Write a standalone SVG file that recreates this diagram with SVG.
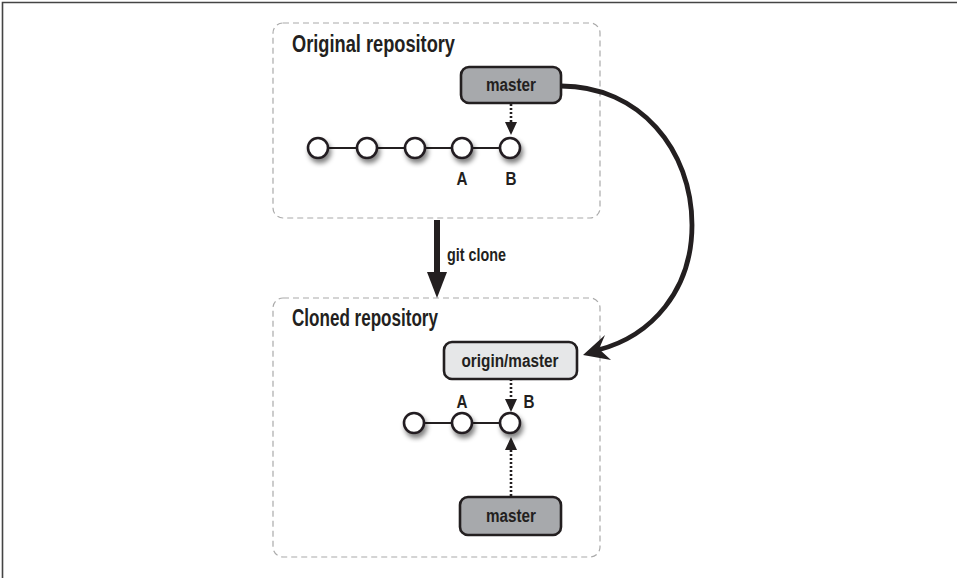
<svg xmlns="http://www.w3.org/2000/svg" width="957" height="578" viewBox="0 0 957 578">
<defs>
<style>
.frame{stroke:#444;stroke-width:1.6;fill:none}
.repo{fill:none;stroke:#aaa;stroke-width:1.2;stroke-dasharray:6,4}
.title{font-family:"Liberation Sans",Arial,sans-serif;font-weight:bold;font-size:23px;fill:#231f20}
.lbl{font-family:"Liberation Sans",Arial,sans-serif;font-weight:bold;font-size:17.5px;fill:#231f20;text-anchor:middle}
.ab{font-family:"Liberation Sans",Arial,sans-serif;font-weight:bold;font-size:19px;fill:#231f20;text-anchor:middle}
.ref{stroke:#231f20;stroke-width:2.6}
.dark{fill:#a7a9ac}
.light{fill:#e6e7e8}
.commit{fill:#fff;stroke:#231f20;stroke-width:2.6}
.link{stroke:#231f20;stroke-width:2.2;fill:none}
.dot{stroke:#231f20;stroke-width:2.6;stroke-dasharray:2,2;fill:none}
.head{fill:#231f20}
</style>
<filter id="sh" x="-50%" y="-50%" width="200%" height="200%">
<feGaussianBlur in="SourceAlpha" stdDeviation="2.5"/>
<feOffset dx="2" dy="4" result="b"/>
<feComponentTransfer><feFuncA type="linear" slope="0.5"/></feComponentTransfer>
<feMerge><feMergeNode/><feMergeNode in="SourceGraphic"/></feMerge>
</filter>
</defs>
<rect width="957" height="578" fill="#fff"/>
<path class="frame" d="M2.5 578 V2.5 H957"/>

<g id="original-repo">
<rect class="repo" x="273" y="23" width="327" height="195" rx="10"/>
<text class="title" x="292" y="52" textLength="163" lengthAdjust="spacingAndGlyphs">Original repository</text>
</g>
<g id="cloned-repo">
<rect class="repo" x="273" y="298" width="327" height="259" rx="10"/>
<text class="title" x="292" y="326" textLength="146" lengthAdjust="spacingAndGlyphs">Cloned repository</text>
</g>

<g id="connectors">
<path class="link" d="M318 148 H510"/>
<path class="link" d="M414 423 H510"/>
<path class="dot" d="M511 104 V123"/>
<polygon class="head" points="505,122 517,122 511,135"/>
<path class="dot" d="M511 379 V400"/>
<polygon class="head" points="505,399 517,399 511,412"/>
<path class="dot" d="M511 496 V449"/>
<polygon class="head" points="505,450 517,450 511,437"/>
<rect class="head" x="434" y="220" width="6" height="54"/>
<polygon class="head" points="427,272 447,272 437,298"/>
<path d="M561 86 C640 86 692 150 692 225 C692 290 652 336 598 350" fill="none" stroke="#231f20" stroke-width="4.8"/>
<polygon class="head" points="583,355 605,335 599,349 611,360"/>
<text class="lbl" x="447" y="261" style="text-anchor:start" textLength="59" lengthAdjust="spacingAndGlyphs">git clone</text>
</g>

<g id="orig-commits" filter="url(#sh)">
<circle class="commit" cx="318" cy="148" r="10"/>
<circle class="commit" cx="367" cy="148" r="10"/>
<circle class="commit" cx="415" cy="148" r="10"/>
<circle class="commit" cx="462" cy="148" r="10"/>
<circle class="commit" cx="510" cy="148" r="10"/>
</g>
<g id="orig-labels">
<text class="ab" x="462" y="185" textLength="11" lengthAdjust="spacingAndGlyphs">A</text>
<text class="ab" x="511" y="185" textLength="11" lengthAdjust="spacingAndGlyphs">B</text>
</g>
<g id="orig-master">
<rect class="ref dark" x="461" y="67" width="100" height="36" rx="8"/>
<text class="lbl" x="511" y="91" textLength="50" lengthAdjust="spacingAndGlyphs">master</text>
</g>

<g id="clone-commits" filter="url(#sh)">
<circle class="commit" cx="414" cy="423" r="10"/>
<circle class="commit" cx="462" cy="423" r="10"/>
<circle class="commit" cx="510" cy="423" r="10"/>
</g>
<g id="clone-labels">
<text class="ab" x="462" y="408" textLength="11" lengthAdjust="spacingAndGlyphs">A</text>
<text class="ab" x="529" y="408" textLength="11" lengthAdjust="spacingAndGlyphs">B</text>
</g>
<g id="origin-master">
<rect class="ref light" x="444" y="342" width="133" height="37" rx="8"/>
<text class="lbl" x="510" y="367" textLength="97" lengthAdjust="spacingAndGlyphs">origin/master</text>
</g>
<g id="clone-master">
<rect class="ref dark" x="460" y="497" width="101" height="38" rx="8"/>
<text class="lbl" x="511" y="522" textLength="50" lengthAdjust="spacingAndGlyphs">master</text>
</g>
</svg>
